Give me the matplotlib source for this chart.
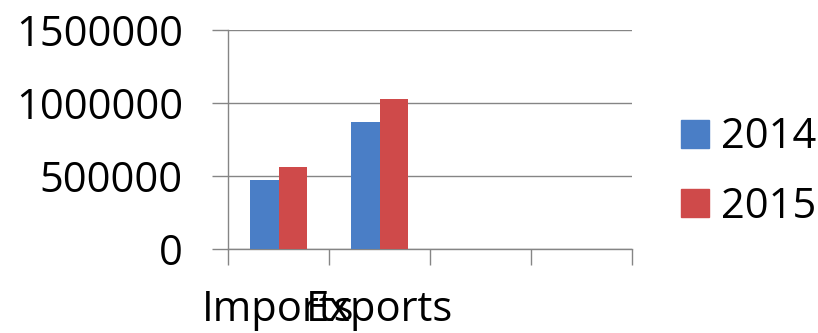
import numpy as np
import matplotlib.pyplot as plt
from matplotlib.patches import Patch

plt.rcParams['font.family'] = ['Open Sans', 'DejaVu Sans']

categories = ['Imports', 'Exports', '', '']
years = ['2014', '2015']
values_2014 = [471000, 868000, 0, 0]
values_2015 = [562000, 1027000, 0, 0]
colors = ['#4A7EC6', '#CF4A4A']

W, H = 818, 333
fig = plt.figure(figsize=(W / 100, H / 100), dpi=100)
ax = fig.add_axes([228 / W, (H - 249) / H, (632 - 228) / W, (249 - 30) / H])

x = np.arange(len(categories))
bw = 0.28
ax.bar(x[:2] - bw / 2, values_2014[:2], bw, color=colors[0], zorder=3)
ax.bar(x[:2] + bw / 2, values_2015[:2], bw, color=colors[1], zorder=3)

ax.set_xlim(-0.5, len(categories) - 0.5)
ax.set_ylim(0, 1500000)
ax.set_yticks([0, 500000, 1000000, 1500000])
ax.set_yticklabels(['0', '500000', '1000000', '1500000'])
ax.yaxis.grid(True, color='#858585', lw=1.0, zorder=0)

gray = '#858585'
ax.tick_params(axis='y', direction='out', length=11.5, width=1.0, color=gray,
               labelsize=30, pad=21)
# category boundaries as ticks, labels at centers
ax.set_xticks(np.arange(-0.5, len(categories)), minor=True)
ax.set_xticks(x[:2])
ax.set_xticklabels(categories[:2])
ax.tick_params(axis='x', which='minor', direction='out', length=11.5, width=1.0, color=gray)
ax.tick_params(axis='x', which='major', length=0, labelsize=30, pad=29)

for s in ['top', 'right']:
    ax.spines[s].set_visible(False)
for s in ['left', 'bottom']:
    ax.spines[s].set_color(gray)
    ax.spines[s].set_linewidth(1.0)

handles = [Patch(color=c) for c in colors]
fig.legend(handles, years, loc='center left', bbox_to_anchor=(681 / W, (H - 172) / H),
           frameon=False, fontsize=30, handlelength=0.66, handleheight=0.66,
           handletextpad=0.3, labelspacing=0.65, borderpad=0, borderaxespad=0)

fig.savefig('out.png', dpi=100)
